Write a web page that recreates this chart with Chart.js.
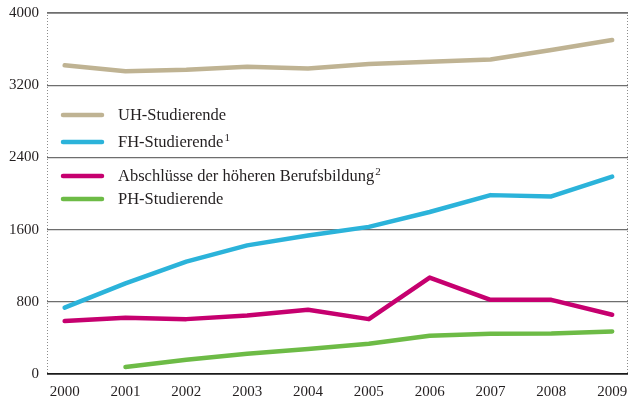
<!DOCTYPE html>
<html>
<head>
<meta charset="utf-8">
<script src="https://cdn.jsdelivr.net/npm/chart.js@4"></script>
<style>
  html, body { margin: 0; padding: 0; background: #fff; }
  #wrap { width: 633px; height: 400px; }
</style>
</head>
<body>
<div id="wrap"><canvas id="myChart"></canvas></div>
<script>
const jahre = [2000, 2001, 2002, 2003, 2004, 2005, 2006, 2007, 2008, 2009];
const uhStudierende = [3420, 3355, 3370, 3405, 3385, 3435, 3460, 3485, 3590, 3700];
const fhStudierende = [735, 1005, 1245, 1425, 1535, 1630, 1795, 1982, 1967, 2187];
const abschluesse = [586, 623, 608, 649, 711, 608, 1069, 822, 822, 656];
const phStudierende = [null, 77, 158, 225, 276, 335, 424, 446, 450, 472];
const yTicks = [0, 800, 1600, 2400, 3200, 4000];

const serieNamen = ["UH-Studierende", "FH-Studierende", "Abschlüsse der höheren Berufsbildung", "PH-Studierende"];
const fussnoten = ["", "1", "2", ""];
const farben = ["#bfb393", "#2bb3da", "#c6006f", "#6dbb46"];

const schrift = '"Liberation Serif", "DejaVu Serif", serif';

function punkte(werte) {
  return jahre.map((j, i) => ({ x: j, y: werte[i] }));
}

const datasets = [uhStudierende, fhStudierende, abschluesse, phStudierende].map((werte, i) => ({
  label: serieNamen[i],
  data: punkte(werte),
  borderColor: farben[i],
  backgroundColor: farben[i],
  borderWidth: 4.5,
  pointRadius: 0,
  tension: 0,
  borderJoinStyle: "round",
  borderCapStyle: "round",
  spanGaps: false
}));

// gepunktete Seitenränder und Legende oben links im Diagramm
const eigeneLegende = {
  id: "eigeneLegende",
  beforeDatasetsDraw(chart) {
    const ctx = chart.ctx;
    const area = chart.chartArea;
    ctx.save();
    ctx.strokeStyle = "#8c8c8c";
    ctx.lineWidth = 1;
    ctx.setLineDash([1, 2]);
    [area.left + 0.5, area.right - 0.5].forEach(x => {
      ctx.beginPath();
      ctx.moveTo(x, area.top + 2);
      ctx.lineTo(x, area.bottom - 1);
      ctx.stroke();
    });
    ctx.restore();
  },
  afterDraw(chart) {
    const ctx = chart.ctx;
    const area = chart.chartArea;
    const zeilen = [102, 129, 163, 186];
    ctx.save();
    chart.data.datasets.forEach((ds, i) => {
      const y = area.top + zeilen[i];
      ctx.strokeStyle = ds.borderColor;
      ctx.lineWidth = 4.5;
      ctx.lineCap = "round";
      ctx.beginPath();
      ctx.moveTo(area.left + 16, y);
      ctx.lineTo(area.left + 55, y);
      ctx.stroke();

      ctx.fillStyle = "#231f20";
      ctx.font = "16.5px " + schrift;
      ctx.textBaseline = "middle";
      ctx.textAlign = "left";
      const tx = area.left + 71;
      ctx.fillText(ds.label, tx, y + 1);
      if (fussnoten[i]) {
        const w = ctx.measureText(ds.label).width;
        ctx.font = "11px " + schrift;
        ctx.fillText(fussnoten[i], tx + w + 1, y - 4);
      }
    });
    ctx.restore();
  }
};

const config = {
  type: "line",
  data: { datasets },
  options: {
    responsive: true,
    maintainAspectRatio: false,
    animation: false,
    layout: { padding: { top: 13, right: 5, left: 0, bottom: 0 } },
    plugins: {
      legend: { display: false },
      tooltip: { enabled: false }
    },
    scales: {
      x: {
        type: "linear",
        min: 1999.71,
        max: 2009.26,
        afterBuildTicks(scale) {
          scale.ticks = jahre.map(j => ({ value: j }));
        },
        afterFit(scale) {
          scale.height = 26;
          scale.paddingLeft = 0;
          scale.paddingRight = 0;
        },
        grid: { display: false, drawTicks: false },
        border: { display: false },
        ticks: {
          color: "#231f20",
          font: { family: schrift, size: 15 },
          padding: 9,
          maxRotation: 0,
          callback: v => String(v)
        }
      },
      y: {
        min: 0,
        max: 4000,
        afterBuildTicks(scale) {
          scale.ticks = yTicks.map(v => ({ value: v }));
        },
        afterFit(scale) {
          scale.width = 47;
          scale.paddingTop = 0;
          scale.paddingBottom = 0;
        },
        grid: {
          drawTicks: false,
          color: ctx => ctx.tick && ctx.tick.value === 0 ? "#1a1a1a" : "#6e6e6e",
          lineWidth: ctx => ctx.tick && (ctx.tick.value === 0 || ctx.tick.value === 4000) ? 1.8 : 1.3
        },
        border: { display: false },
        ticks: {
          color: "#231f20",
          font: { family: schrift, size: 15 },
          padding: 8,
          callback: v => String(v)
        }
      }
    }
  },
  plugins: [eigeneLegende]
};

const myChart = document.getElementById("myChart");
myChart.style.backgroundColor = "white";
new Chart(myChart, config);
</script>
</body>
</html>
